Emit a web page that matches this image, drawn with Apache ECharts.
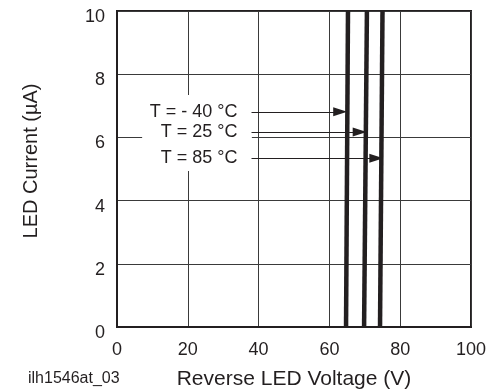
<!DOCTYPE html>
<html>
<head>
<meta charset="utf-8">
<script src="https://cdn.jsdelivr.net/npm/echarts@6/dist/echarts.min.js"></script>
<style>
  html, body { margin: 0; padding: 0; background: #fff; }
  #chart { width: 489px; height: 389px; }
</style>
</head>
<body>
<div id="chart"></div>
<script>
// temperature curves: [voltage, current] at bottom and top of the plot
const temps = ['T = - 40 °C', 'T = 25 °C', 'T = 85 °C'];
const curveM40 = [[64.7, 0], [65.25, 10]];
const curve25 = [[69.8, 0], [70.6, 10]];
const curve85 = [[74.3, 0], [75.0, 10]];
// arrows: start x, tip x, y
const arrowStart = [38, 38, 38];
const arrowTip = [65.0, 70.5, 75.2];
const arrowY = [6.81, 6.17, 5.34];
// white box behind the labels
const boxX = [7.1, 38.1];
const boxY = [4.94, 7.34];

const xTicks = [0, 100, 20];
const yTicks = [0, 10, 2];

const ink = '#231f20';
const font = 'Liberation Sans, Arial, Helvetica, sans-serif';
// the arrow head is centred on the line end, so pull the end back by half a head
const headBack = 1.95;

const curves = [curveM40, curve25, curve85];

let myChart = echarts.init(document.getElementById('chart'));

const series = [
  {
    type: 'line',
    data: [],
    z: 1,
    silent: true,
    markArea: {
      silent: true,
      itemStyle: { color: '#fff' },
      data: [[{ coord: [boxX[0], boxY[1]] }, { coord: [boxX[1], boxY[0]] }]]
    }
  }
];

curves.forEach((c, i) => {
  series.push({
    name: temps[i],
    type: 'line',
    data: c,
    z: 3,
    symbol: 'none',
    silent: true,
    lineStyle: { color: ink, width: 4.5 },
    markLine: {
      silent: true,
      symbol: ['none', 'triangle'],
      symbolSize: [9, 14],
      lineStyle: { color: ink, width: 1.2, type: 'solid' },
      label: {
        show: true,
        position: 'start',
        distance: 14,
        formatter: temps[i],
        color: ink,
        fontSize: 18,
        fontFamily: font
      },
      data: [[
        { coord: [arrowStart[i], arrowY[i]] },
        { coord: [arrowTip[i] - headBack, arrowY[i]] }
      ]]
    }
  });
});

const option = {
  animation: false,
  backgroundColor: '#fff',
  title: {
    text: 'ilh1546at_03',
    left: 23,
    top: 366,
    textStyle: { fontSize: 16, fontWeight: 'normal', color: ink, fontFamily: font }
  },
  grid: {
    left: 117,
    right: 18,
    top: 11,
    bottom: 62,
    outerBoundsMode: 'none',
    containLabel: false,
    show: true,
    borderColor: ink,
    borderWidth: 2
  },
  xAxis: {
    type: 'value',
    min: xTicks[0],
    max: xTicks[1],
    interval: xTicks[2],
    name: 'Reverse LED Voltage (V)',
    nameLocation: 'middle',
    nameGap: 42,
    nameTextStyle: { fontSize: 21, color: ink, fontFamily: font },
    axisLine: { lineStyle: { color: ink, width: 2 } },
    axisTick: { show: false },
    axisLabel: { fontSize: 18, color: ink, fontFamily: font, margin: 14 },
    splitLine: { lineStyle: { color: '#3a3a3a', width: 1 } }
  },
  yAxis: {
    type: 'value',
    min: yTicks[0],
    max: yTicks[1],
    interval: yTicks[2],
    name: 'LED Current (µA)',
    nameLocation: 'middle',
    nameGap: 76,
    nameTextStyle: { fontSize: 20, color: ink, fontFamily: font, padding: [0, 0, 0, 16] },
    axisLine: { lineStyle: { color: ink, width: 2 } },
    axisTick: { show: false },
    axisLabel: {
      fontSize: 18, color: ink, fontFamily: font, margin: 12,
      verticalAlign: 'top', lineHeight: 12
    },
    splitLine: { lineStyle: { color: '#3a3a3a', width: 1 } }
  },
  series: series
};

myChart.setOption(option);
</script>
</body>
</html>
